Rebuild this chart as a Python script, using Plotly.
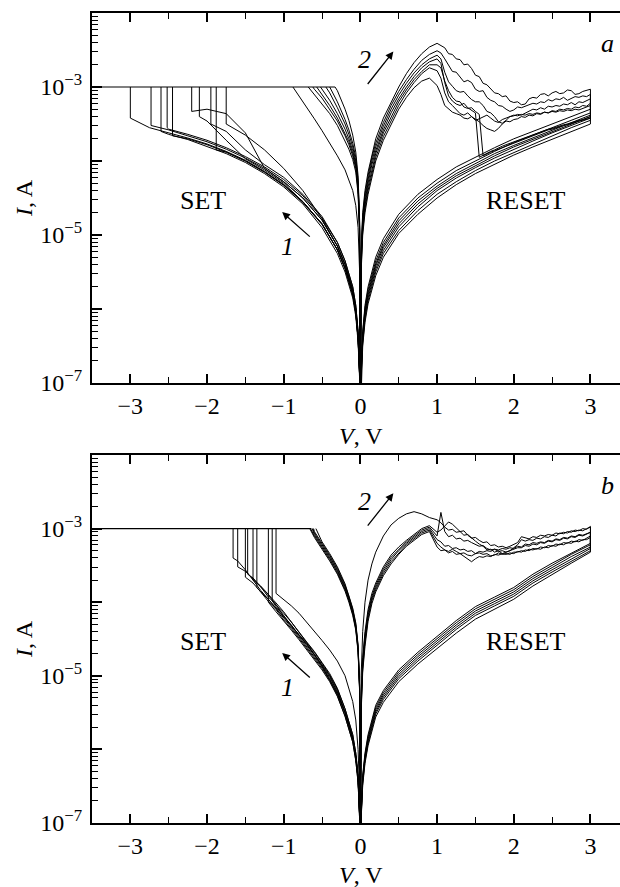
import plotly.graph_objects as go

# ======================= DATA (log10 of current in A, voltage in V) =======================
# ---------------- Panel a ----------------
A_SET_GRID = [0, -0.01, -0.03, -0.06, -0.1, -0.2, -0.3, -0.5, -0.75, -1.0, -1.25, -1.5, -1.75, -2.0, -2.25, -2.5, -2.75]
A_SET_VSET = [-3.0, -2.73, -2.6, -2.52, -2.45, -2.2, -2.1, -1.95, -1.88, -1.75]
A_SET_LOGI = [
    [-7.5, -6.9, -6.4, -6.05, -5.8, -5.45, -5.2, -4.85, -4.55, -4.32, -4.14, -3.99, -3.87, -3.77, -3.69, -3.62, -3.55, -3.42],
    [-7.5, -6.85, -6.35, -6.0, -5.75, -5.4, -5.15, -4.8, -4.5, -4.28, -4.1, -3.96, -3.84, -3.74, -3.66, -3.58, -3.52],
    [-7.5, -6.95, -6.45, -6.1, -5.85, -5.5, -5.25, -4.9, -4.58, -4.35, -4.17, -4.02, -3.9, -3.8, -3.71, -3.64, -3.6],
    [-7.5, -6.8, -6.3, -5.95, -5.7, -5.35, -5.1, -4.77, -4.47, -4.25, -4.08, -3.94, -3.82, -3.72, -3.64, -3.57, -3.55],
    [-7.5, -6.9, -6.4, -6.05, -5.8, -5.45, -5.2, -4.86, -4.56, -4.33, -4.15, -4.0, -3.88, -3.78, -3.7, -3.66],
    [-7.5, -6.85, -6.35, -6.0, -5.75, -5.4, -5.15, -4.8, -4.5, -4.28, -4.1, -3.62, -3.36, -3.3, -3.33],
    [-7.5, -6.9, -6.4, -6.05, -5.8, -5.45, -5.2, -4.85, -4.55, -4.3, -4.12, -3.97, -3.72, -3.46, -3.4],
    [-7.5, -6.8, -6.3, -5.95, -5.7, -5.35, -5.1, -4.75, -4.45, -4.22, -4.05, -3.85, -3.6, -3.5],
    [-7.5, -6.9, -6.4, -6.05, -5.8, -5.45, -5.2, -4.85, -4.55, -4.32, -4.15, -4.0, -3.88, -3.85],
    [-7.5, -6.85, -6.35, -6.0, -5.75, -5.4, -5.15, -4.78, -4.4, -4.1, -3.85, -3.65, -3.5],
]
A_COMP_V = [-3.5, -0.33]
A_COMP_LOGI = [-3.0, -3.0]

A_LRSN_GRID = [-0.8, -0.7, -0.6, -0.5, -0.4, -0.3, -0.2, -0.15, -0.1, -0.06, -0.03, -0.01, 0]
A_LRSN_VC = [-0.88, -0.68, -0.62, -0.57, -0.52, -0.45, -0.4, -0.33]
A_LRSN_LOGI = [
    [-3.0, -3.12, -3.28, -3.43, -3.59, -3.76, -3.93, -4.12, -4.25, -4.4, -4.6, -4.9, -5.5, -7.5],
    [-3.0, -3.1, -3.22, -3.36, -3.52, -3.72, -3.84, -3.98, -4.15, -4.45, -5.0, -7.5],
    [-3.0, -3.03, -3.15, -3.3, -3.46, -3.66, -3.78, -3.93, -4.1, -4.4, -4.95, -7.5],
    [-3.0, -3.1, -3.25, -3.42, -3.62, -3.74, -3.9, -4.07, -4.37, -4.92, -7.5],
    [-3.0, -3.03, -3.18, -3.36, -3.57, -3.7, -3.86, -4.04, -4.34, -4.9, -7.5],
    [-3.0, -3.08, -3.28, -3.5, -3.64, -3.81, -4.0, -4.3, -4.87, -7.5],
    [-3.0, -3.2, -3.44, -3.58, -3.76, -3.95, -4.26, -4.84, -7.5],
    [-3.0, -3.05, -3.3, -3.45, -3.65, -3.88, -4.2, -4.8, -7.5],
]

RISE_GRID = [0, 0.01, 0.03, 0.06, 0.1, 0.15, 0.2, 0.3, 0.4, 0.5, 0.6, 0.7, 0.8, 0.9, 1.0]
NOISE_GRID = [1.05, 1.1, 1.15, 1.2, 1.25, 1.3, 1.35, 1.4, 1.45, 1.5,
              1.55, 1.6, 1.65, 1.7, 1.75, 1.8, 1.85, 1.9, 1.95, 2.0,
              2.05, 2.1, 2.15, 2.2, 2.25, 2.3, 2.35, 2.4, 2.45, 2.5,
              2.55, 2.6, 2.65, 2.7, 2.75, 2.8, 2.85, 2.9, 2.95, 3.0]
HRS_GRID = [3.0, 2.75, 2.5, 2.25, 2.0, 1.75, 1.5, 1.25, 1.0, 0.75, 0.5, 0.3, 0.2, 0.1, 0.06, 0.03, 0.01, 0]

A_RISE_LOGI = [
    [-7.5, -5.2, -4.7, -4.4, -4.15, -3.9, -3.7, -3.42, -3.2, -3.0, -2.82, -2.67, -2.55, -2.46, -2.41],
    [-7.5, -5.25, -4.75, -4.45, -4.2, -3.95, -3.76, -3.48, -3.25, -3.06, -2.9, -2.76, -2.64, -2.56, -2.51],
    [-7.5, -5.3, -4.8, -4.5, -4.25, -4.0, -3.81, -3.53, -3.3, -3.11, -2.95, -2.81, -2.7, -2.62, -2.57],
    [-7.5, -5.35, -4.85, -4.55, -4.3, -4.05, -3.86, -3.58, -3.35, -3.16, -3.0, -2.86, -2.74, -2.66, -2.62],
    [-7.5, -5.4, -4.9, -4.6, -4.35, -4.1, -3.9, -3.62, -3.4, -3.2, -3.04, -2.9, -2.79, -2.7, -2.7],
    [-7.5, -5.45, -4.95, -4.65, -4.4, -4.15, -3.95, -3.67, -3.45, -3.25, -3.08, -2.94, -2.82, -2.74, -2.78],
    [-7.5, -5.5, -5.0, -4.7, -4.45, -4.2, -4.0, -3.72, -3.5, -3.3, -3.14, -3.01, -2.92, -2.88, -2.98],
]
A_NOISE_LOGI = [
    [-2.44, -2.47, -2.55, -2.56, -2.62, -2.63, -2.7, -2.69, -2.75, -2.84,
     -2.86, -2.95, -2.97, -3.02, -3.08, -3.09, -3.13, -3.12, -3.19, -3.21,
     -3.2, -3.24, -3.23, -3.16, -3.14, -3.15, -3.1, -3.09, -3.12, -3.08,
     -3.06, -3.09, -3.08, -3.04, -3.05, -3.1, -3.09, -3.06, -3.05, -3.03],
    [-2.54, -2.62, -2.7, -2.79, -2.8, -2.87, -2.93, -2.91, -2.94, -3.03,
     -3.06, -3.05, -3.14, -3.18, -3.2, -3.25, -3.26, -3.3, -3.33, -3.31,
     -3.27, -3.28, -3.26, -3.24, -3.22, -3.23, -3.2, -3.21, -3.17, -3.19,
     -3.16, -3.17, -3.14, -3.18, -3.15, -3.13, -3.14, -3.12, -3.13, -3.1],
    [-2.62, -2.8, -2.93, -2.99, -3.05, -3.07, -3.06, -3.12, -3.17, -3.2,
     -3.2, -3.25, -3.33, -3.35, -3.4, -3.47, -3.49, -3.45, -3.4, -3.39,
     -3.37, -3.38, -3.35, -3.33, -3.3, -3.31, -3.28, -3.3, -3.26, -3.27,
     -3.25, -3.26, -3.23, -3.24, -3.21, -3.24, -3.2, -3.21, -3.19, -3.16],
    [-2.68, -2.94, -3.12, -3.19, -3.23, -3.25, -3.22, -3.28, -3.32, -3.35,
     -3.95, -3.92, -3.9, -3.87, -3.85, -3.82, -3.8, -3.78, -3.76, -3.74,
     -3.72, -3.7, -3.68, -3.66, -3.64, -3.62, -3.61, -3.59, -3.57, -3.56,
     -3.54, -3.53, -3.51, -3.5, -3.48, -3.47, -3.45, -3.44, -3.42, -3.4],
    [-2.74, -2.92, -3.05, -3.14, -3.19, -3.2, -3.27, -3.29, -3.28, -3.33,
     -3.37, -3.93, -3.9, -3.88, -3.86, -3.84, -3.81, -3.79, -3.77, -3.75,
     -3.73, -3.71, -3.69, -3.67, -3.65, -3.63, -3.62, -3.6, -3.58, -3.57,
     -3.55, -3.54, -3.52, -3.51, -3.49, -3.48, -3.46, -3.45, -3.43, -3.42],
    [-2.88, -3.08, -3.2, -3.25, -3.3, -3.36, -3.38, -3.35, -3.4, -3.43,
     -3.47, -3.52, -3.56, -3.58, -3.6, -3.56, -3.5, -3.46, -3.47, -3.44,
     -3.43, -3.4, -3.41, -3.38, -3.39, -3.36, -3.37, -3.34, -3.35, -3.32,
     -3.33, -3.3, -3.31, -3.29, -3.3, -3.27, -3.28, -3.25, -3.26, -3.22],
    [-3.1, -3.25, -3.3, -3.34, -3.36, -3.38, -3.42, -3.43, -3.4, -3.45,
     -3.43, -3.4, -3.38, -3.42, -3.46, -3.48, -3.44, -3.42, -3.4, -3.38,
     -3.39, -3.37, -3.38, -3.36, -3.37, -3.35, -3.36, -3.34, -3.35, -3.33,
     -3.34, -3.32, -3.33, -3.31, -3.32, -3.3, -3.31, -3.29, -3.28, -3.25],
]
A_HRS_LOGI = [
    [-3.3, -3.4, -3.5, -3.6, -3.7, -3.82, -3.95, -4.08, -4.25, -4.45, -4.72, -5.05, -5.3, -5.7, -5.95, -6.3, -6.8, -7.5],
    [-3.35, -3.45, -3.55, -3.65, -3.75, -3.87, -4.0, -4.13, -4.3, -4.5, -4.77, -5.1, -5.35, -5.74, -5.99, -6.33, -6.83, -7.5],
    [-3.38, -3.48, -3.58, -3.68, -3.79, -3.9, -4.03, -4.17, -4.34, -4.54, -4.81, -5.14, -5.39, -5.78, -6.03, -6.37, -6.86, -7.5],
    [-3.4, -3.5, -3.6, -3.7, -3.81, -3.93, -4.06, -4.2, -4.37, -4.58, -4.85, -5.17, -5.42, -5.81, -6.06, -6.4, -6.88, -7.5],
    [-3.42, -3.52, -3.62, -3.73, -3.84, -3.96, -4.09, -4.23, -4.4, -4.62, -4.89, -5.21, -5.46, -5.85, -6.1, -6.43, -6.91, -7.5],
    [-3.45, -3.55, -3.66, -3.77, -3.88, -4.0, -4.13, -4.28, -4.45, -4.67, -4.94, -5.25, -5.5, -5.89, -6.14, -6.46, -6.94, -7.5],
    [-3.5, -3.6, -3.7, -3.81, -3.92, -4.04, -4.17, -4.32, -4.5, -4.72, -4.98, -5.3, -5.55, -5.93, -6.18, -6.5, -6.97, -7.5],
]

# ---------------- Panel b ----------------
B_SET_GRID = [0, -0.01, -0.03, -0.06, -0.1, -0.2, -0.3, -0.4, -0.5, -0.6, -0.7, -0.8, -0.9, -1.0, -1.1, -1.2, -1.3, -1.4, -1.5, -1.6]
B_SET_VSET = [-1.66, -1.6, -1.5, -1.47, -1.4, -1.35, -1.2, -1.15, -1.1]
B_SET_LOGI = [
    [-7.5, -6.9, -6.4, -6.1, -5.85, -5.5, -5.2, -5.0, -4.85, -4.7, -4.56, -4.44, -4.32, -4.2, -4.07, -3.96, -3.84, -3.7, -3.56, -3.44, -3.4],
    [-7.5, -6.85, -6.35, -6.05, -5.8, -5.45, -5.17, -4.97, -4.82, -4.67, -4.54, -4.4, -4.27, -4.15, -4.04, -3.9, -3.79, -3.68, -3.58, -3.52],
    [-7.5, -6.95, -6.45, -6.15, -5.9, -5.55, -5.27, -5.06, -4.9, -4.76, -4.62, -4.49, -4.36, -4.24, -4.1, -3.99, -3.86, -3.74, -3.66],
    [-7.5, -6.9, -6.4, -6.1, -5.85, -5.5, -5.22, -5.02, -4.86, -4.71, -4.57, -4.45, -4.31, -4.19, -4.03, -3.93, -3.79, -3.67, -3.62],
    [-7.5, -6.85, -6.35, -6.05, -5.8, -5.45, -5.18, -4.99, -4.83, -4.68, -4.55, -4.41, -4.28, -4.13, -4.01, -3.89, -3.78, -3.7],
    [-7.5, -6.9, -6.4, -6.1, -5.85, -5.5, -5.24, -5.04, -4.88, -4.74, -4.6, -4.47, -4.34, -4.21, -4.09, -3.96, -3.86, -3.8],
    [-7.5, -6.95, -6.45, -6.15, -5.9, -5.55, -5.28, -5.08, -4.92, -4.78, -4.64, -4.51, -4.38, -4.26, -4.13, -4.0],
    [-7.5, -6.9, -6.4, -6.1, -5.85, -5.5, -5.25, -5.05, -4.87, -4.72, -4.58, -4.45, -4.32, -4.18, -4.06, -3.98],
    [-7.5, -6.6, -6.0, -5.6, -5.35, -5.0, -4.8, -4.65, -4.52, -4.4, -4.27, -4.15, -4.05, -3.97, -3.88],
]
B_COMP_V = [-3.5, -0.64]
B_COMP_LOGI = [-3.0, -3.0]

B_LRSN_GRID = [-0.6, -0.5, -0.4, -0.3, -0.2, -0.15, -0.1, -0.06, -0.03, -0.01, 0]
B_LRSN_VC = [-0.66, -0.65, -0.63, -0.62, -0.61, -0.58]
B_LRSN_LOGI = [
    [-3.0, -3.12, -3.28, -3.44, -3.62, -3.85, -4.0, -4.18, -4.38, -4.68, -5.22, -7.5],
    [-3.0, -3.1, -3.26, -3.42, -3.6, -3.83, -3.98, -4.16, -4.36, -4.66, -5.2, -7.5],
    [-3.0, -3.08, -3.24, -3.4, -3.58, -3.81, -3.96, -4.14, -4.34, -4.64, -5.18, -7.5],
    [-3.0, -3.06, -3.22, -3.38, -3.56, -3.79, -3.94, -4.12, -4.32, -4.62, -5.16, -7.5],
    [-3.0, -3.04, -3.2, -3.36, -3.54, -3.77, -3.92, -4.1, -4.3, -4.6, -5.14, -7.5],
    [-3.0, -3.18, -3.34, -3.52, -3.75, -3.9, -4.08, -4.28, -4.58, -5.12, -7.5],
]
B_RISE_LOGI = [
    [-7.5, -5.3, -4.75, -4.4, -4.1, -3.88, -3.74, -3.52, -3.36, -3.25, -3.16, -3.08, -3.0, -2.96, -3.05],
    [-7.5, -5.35, -4.8, -4.45, -4.14, -3.92, -3.77, -3.55, -3.39, -3.28, -3.18, -3.1, -3.02, -2.98, -3.1],
    [-7.5, -5.4, -4.85, -4.5, -4.18, -3.95, -3.8, -3.58, -3.42, -3.3, -3.2, -3.12, -3.04, -3.0, -3.15],
    [-7.5, -5.45, -4.9, -4.55, -4.22, -3.98, -3.83, -3.61, -3.45, -3.33, -3.22, -3.14, -3.06, -3.02, -3.2],
    [-7.5, -5.5, -4.95, -4.6, -4.26, -4.02, -3.86, -3.64, -3.48, -3.35, -3.24, -3.16, -3.08, -3.04, -3.25],
    [-7.5, -5.0, -4.4, -4.0, -3.7, -3.48, -3.32, -3.1, -2.95, -2.86, -2.8, -2.77, -2.8, -2.85, -2.88],
]
B_NOISE_LOGI = [
    [-3.02, -2.96, -2.91, -2.94, -2.99, -3.04, -3.03, -3.09, -3.13, -3.12,
     -3.16, -3.19, -3.18, -3.23, -3.22, -3.25, -3.24, -3.26, -3.24, -3.21,
     -3.19, -3.11, -3.12, -3.14, -3.11, -3.12, -3.09, -3.1, -3.08, -3.09,
     -3.06, -3.07, -3.05, -3.06, -3.03, -3.04, -3.02, -3.03, -3.0, -2.98],
    [-2.78, -3.04, -3.11, -3.09, -3.14, -3.13, -3.17, -3.16, -3.19, -3.22,
     -3.24, -3.23, -3.27, -3.29, -3.28, -3.31, -3.3, -3.32, -3.3, -3.28,
     -3.26, -3.26, -3.23, -3.24, -3.21, -3.22, -3.19, -3.2, -3.17, -3.18,
     -3.15, -3.16, -3.13, -3.14, -3.11, -3.12, -3.09, -3.1, -3.07, -3.05],
    [-3.18, -3.24, -3.23, -3.27, -3.26, -3.29, -3.28, -3.31, -3.3, -3.34,
     -3.33, -3.35, -3.34, -3.37, -3.36, -3.33, -3.35, -3.34, -3.35, -3.32,
     -3.32, -3.3, -3.31, -3.28, -3.29, -3.27, -3.28, -3.25, -3.26, -3.23,
     -3.24, -3.21, -3.22, -3.19, -3.2, -3.17, -3.18, -3.15, -3.15, -3.12],
    [-3.25, -3.29, -3.33, -3.31, -3.35, -3.34, -3.38, -3.41, -3.45, -3.41,
     -3.38, -3.39, -3.37, -3.38, -3.35, -3.36, -3.34, -3.35, -3.33, -3.34,
     -3.31, -3.32, -3.29, -3.3, -3.27, -3.28, -3.25, -3.26, -3.23, -3.24,
     -3.21, -3.22, -3.19, -3.2, -3.17, -3.18, -3.15, -3.16, -3.13, -3.1],
    [-3.3, -3.29, -3.31, -3.28, -3.31, -3.34, -3.33, -3.36, -3.37, -3.34,
     -3.31, -3.32, -3.3, -3.31, -3.28, -3.29, -3.27, -3.28, -3.26, -3.27,
     -3.24, -3.25, -3.21, -3.22, -3.19, -3.2, -3.18, -3.19, -3.16, -3.17,
     -3.14, -3.15, -3.12, -3.13, -3.1, -3.11, -3.08, -3.09, -3.07, -3.05],
    [-2.92, -2.98, -3.02, -3.01, -3.05, -3.04, -3.09, -3.08, -3.13, -3.17,
     -3.21, -3.24, -3.29, -3.28, -3.32, -3.3, -3.34, -3.32, -3.3, -3.26,
     -3.22, -3.15, -3.17, -3.15, -3.16, -3.13, -3.14, -3.11, -3.12, -3.09,
     -3.1, -3.06, -3.07, -3.04, -3.05, -3.02, -3.03, -3.0, -3.01, -2.97],
]
B_HRS_LOGI = [
    [-3.2, -3.33, -3.47, -3.62, -3.8, -3.93, -4.06, -4.25, -4.47, -4.68, -4.92, -5.2, -5.4, -5.8, -6.05, -6.35, -6.85, -7.5],
    [-3.22, -3.35, -3.5, -3.65, -3.83, -3.96, -4.09, -4.28, -4.5, -4.71, -4.95, -5.23, -5.43, -5.83, -6.08, -6.38, -6.87, -7.5],
    [-3.25, -3.38, -3.53, -3.68, -3.86, -3.99, -4.12, -4.31, -4.53, -4.74, -4.98, -5.26, -5.46, -5.86, -6.1, -6.4, -6.89, -7.5],
    [-3.27, -3.41, -3.56, -3.71, -3.89, -4.02, -4.15, -4.34, -4.56, -4.77, -5.01, -5.29, -5.49, -5.89, -6.13, -6.43, -6.91, -7.5],
    [-3.3, -3.44, -3.59, -3.74, -3.92, -4.05, -4.18, -4.37, -4.59, -4.8, -5.04, -5.32, -5.52, -5.92, -6.16, -6.46, -6.93, -7.5],
    [-3.32, -3.47, -3.62, -3.78, -3.96, -4.1, -4.23, -4.42, -4.63, -4.84, -5.08, -5.36, -5.56, -5.95, -6.19, -6.49, -6.95, -7.5],
]

X_TICKS = [-3, -2, -1, 0, 1, 2, 3]
X_TICKTEXT = ["\u22123", "\u22122", "\u22121", "0", "1", "2", "3"]
Y_DECADES = [-7, -6, -5, -4, -3, -2]
Y_TICKTEXT = ["10<sup>\u22127</sup>", " ", "10<sup>\u22125</sup>", " ", "10<sup>\u22123</sup>", " "]

# ======================= FIGURE =======================
FONT = "Liberation Serif"
W, H = 620, 887
ML, MR, MT, MB = 92, 0, 13, 64
PH = H - MT - MB
PW = W - ML - MR


def yfrac(ypx):
    return (H - MB - ypx) / PH


def xfrac(xpx):
    return (xpx - ML) / PW


fig = go.Figure()


def add_family(xs_list, ys_list, xa, ya, width=1.0):
    X, Y = [], []
    for xs, ys in zip(xs_list, ys_list):
        assert len(xs) == len(ys), (len(xs), len(ys))
        X += list(xs) + [None]
        Y += [10 ** v for v in ys] + [None]
    fig.add_trace(go.Scatter(x=X, y=Y, mode="lines", line=dict(color="black", width=width),
                             xaxis=xa, yaxis=ya, showlegend=False, hoverinfo="skip",
                             connectgaps=False))


def build_panel(xa, ya, set_grid, vsets, set_rows, comp_v, comp_l, lrs_grid, vcs, lrs_rows,
                rise_rows, noise_rows, hrs_rows):
    xs_l, ys_l = [], []
    for vset, row in zip(vsets, set_rows):
        xs = [g for g in set_grid if abs(g) < abs(vset) - 1e-9] + [vset, vset]
        ys = list(row) + [-3.0]
        xs_l.append(xs)
        ys_l.append(ys)
    add_family(xs_l, ys_l, xa, ya)
    add_family([comp_v], [comp_l], xa, ya, width=1.2)
    xs_l, ys_l = [], []
    for vc, row in zip(vcs, lrs_rows):
        xs = [vc] + [g for g in lrs_grid if abs(g) < abs(vc) - 1e-9]
        xs_l.append(xs)
        ys_l.append(row)
    add_family(xs_l, ys_l, xa, ya)
    xs_l, ys_l = [], []
    for r, n, h in zip(rise_rows, noise_rows, hrs_rows):
        xs_l.append(RISE_GRID + NOISE_GRID + HRS_GRID)
        ys_l.append(list(r) + list(n) + list(h))
    add_family(xs_l, ys_l, xa, ya)


build_panel("x", "y", A_SET_GRID, A_SET_VSET, A_SET_LOGI, A_COMP_V, A_COMP_LOGI,
            A_LRSN_GRID, A_LRSN_VC, A_LRSN_LOGI, A_RISE_LOGI, A_NOISE_LOGI, A_HRS_LOGI)
build_panel("x2", "y2", B_SET_GRID, B_SET_VSET, B_SET_LOGI, B_COMP_V, B_COMP_LOGI,
            B_LRSN_GRID, B_LRSN_VC, B_LRSN_LOGI, B_RISE_LOGI, B_NOISE_LOGI, B_HRS_LOGI)

tickfont = dict(family=FONT, size=24, color="black")
minor_y = [k * 10.0 ** e for e in range(-7, -2) for k in range(2, 10)]


def xaxis_style(anchor):
    return dict(anchor=anchor, domain=[0, 1], range=[-3.5, (W - 361) / 76.5],
                tickmode="array", tickvals=X_TICKS, ticktext=X_TICKTEXT,
                ticks="inside", ticklen=9, tickwidth=1.5, tickcolor="black",
                minor=dict(tickmode="array", tickvals=[-2.5, -1.5, -0.5, 0.5, 1.5, 2.5],
                           ticks="inside", ticklen=6, tickwidth=1.3, tickcolor="black"),
                showline=True, linewidth=2.2, linecolor="black", mirror="ticks",
                showgrid=False, zeroline=False, tickfont=tickfont, ticklabelstandoff=0)


def yaxis_style(anchor, dom):
    return dict(anchor=anchor, domain=dom, type="log", range=[-7, -2],
                tickmode="array", tickvals=[10.0 ** d for d in Y_DECADES], ticktext=Y_TICKTEXT,
                ticks="inside", ticklen=10, tickwidth=1.5, tickcolor="black",
                minor=dict(tickmode="array", tickvals=minor_y, ticks="inside", ticklen=6,
                           tickwidth=1.2, tickcolor="black"),
                showline=True, linewidth=2.2, linecolor="black", mirror=False,
                showgrid=False, zeroline=False, tickfont=tickfont, ticklabelstandoff=3)


annotations = []
txt = dict(family=FONT, size=26, color="black")
for xa, ya, lab, yl in [("x", "y", "a", -2.41), ("x2", "y2", "b", -2.42)]:
    annotations += [
        dict(x=-2.05, y=-4.53, xref=xa, yref=ya, text="SET", showarrow=False, font=txt),
        dict(x=2.16, y=-4.53, xref=xa, yref=ya, text="RESET", showarrow=False, font=txt),
        dict(x=0.056, y=-2.63, xref=xa, yref=ya, text="<i>2</i>", showarrow=False, font=txt),
        dict(x=-0.956, y=-5.16, xref=xa, yref=ya, text="<i>1</i>", showarrow=False, font=txt),
        dict(x=3.22, y=yl, xref=xa, yref=ya, text="<i>" + lab + "</i>", showarrow=False, font=txt),
        dict(x=0.43, y=-2.52, ax=0.08, ay=-2.98, xref=xa, yref=ya, axref=xa, ayref=ya,
             text="", showarrow=True, arrowhead=2, arrowsize=1.2, arrowwidth=1.3, arrowcolor="black"),
        dict(x=-1.02, y=-4.69, ax=-0.64, ay=-5.04, xref=xa, yref=ya, axref=xa, ayref=ya,
             text="", showarrow=True, arrowhead=2, arrowsize=1.2, arrowwidth=1.3, arrowcolor="black"),
    ]

ttl = dict(family=FONT, size=24, color="black")
for ycen in [198, 639]:
    annotations.append(dict(x=xfrac(24), y=yfrac(ycen), xref="paper", yref="paper",
                            text="<i>I</i>, A", showarrow=False, textangle=-90, font=ttl,
                            xanchor="center", yanchor="middle"))
for ycen in [436, 875]:
    annotations.append(dict(x=xfrac(361), y=yfrac(ycen), xref="paper", yref="paper",
                            text="<i>V</i>, V", showarrow=False, font=ttl,
                            xanchor="center", yanchor="middle"))

fig.update_layout(
    width=W, height=H,
    margin=dict(l=ML, r=MR, t=MT, b=MB, pad=0),
    paper_bgcolor="white", plot_bgcolor="white",
    showlegend=False,
    xaxis=xaxis_style("y"),
    yaxis=yaxis_style("x", [yfrac(383), 1.0]),
    xaxis2=xaxis_style("y2"),
    yaxis2=yaxis_style("x2", [0.0, yfrac(455)]),
    annotations=annotations,
    font=dict(family=FONT, color="black"),
)

fig.write_html("out.html", config={"displayModeBar": False},
               post_script="document.body.style.margin='0px';document.body.style.overflow='hidden';")
